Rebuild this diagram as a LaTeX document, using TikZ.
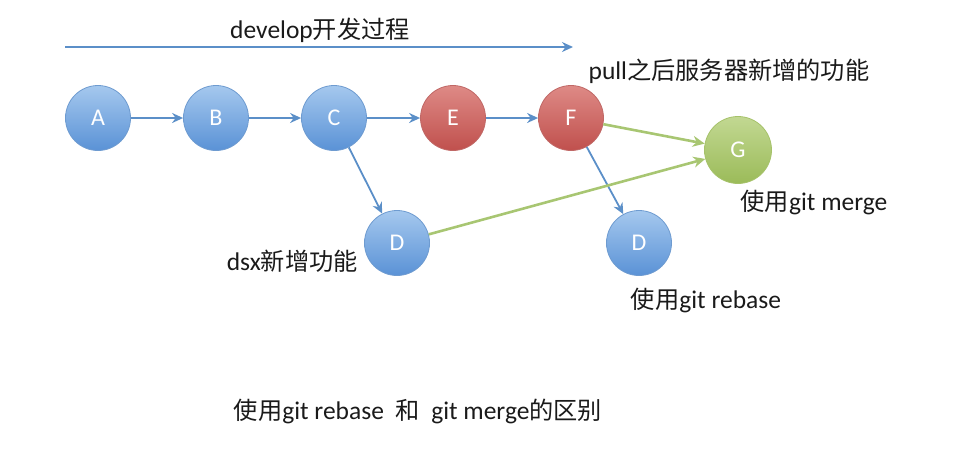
\documentclass[tikz,border=0pt]{standalone}
\usepackage{fontspec}
\setmainfont{Carlito}
\newfontfamily\cjk{Noto Sans CJK SC}[Scale=0.95]
\usetikzlibrary{arrows.meta}
\definecolor{bluetop}{HTML}{A5C8EE}
\definecolor{bluebot}{HTML}{5A92D6}
\definecolor{blueedge}{HTML}{6E9BD0}
\definecolor{redtop}{HTML}{DE8A86}
\definecolor{redbot}{HTML}{C0504D}
\definecolor{rededge}{HTML}{C06866}
\definecolor{greentop}{HTML}{C2D892}
\definecolor{greenbot}{HTML}{9BBB59}
\definecolor{greenedge}{HTML}{A6C26A}
\definecolor{arrblue}{HTML}{5B8FC8}
\definecolor{arrgreen}{HTML}{A8C672}
\definecolor{txt}{HTML}{1A1A1A}
\tikzset{
  commit/.style={circle, minimum size=65pt, inner sep=0pt, text=white, font=\fontsize{24}{26}\selectfont, line width=0.8pt},
  bluec/.style={commit, top color=bluetop, bottom color=bluebot, draw=blueedge},
  redc/.style={commit, top color=redtop, bottom color=redbot, draw=rededge},
  greenc/.style={commit, top color=greentop, bottom color=greenbot, draw=greenedge, minimum size=67pt},
  barrow/.style={draw=arrblue, line width=1.8pt, -{Stealth[length=11pt,width=10pt]}},
  garrow/.style={draw=arrgreen, line width=2.6pt, -{Stealth[length=12pt,width=11pt]}},
  lbl/.style={text=txt, font=\fontsize{25.5}{30}\selectfont, inner sep=0pt}
}
\begin{document}
\begin{tikzpicture}[x=1pt,y=-1pt]
\useasboundingbox (0,0) rectangle (963,456);
% top arrow
\coordinate (t0) at (65,47);
\coordinate (t1) at (573,47);
\draw[barrow] (t0) -- (t1);
\node[lbl] (dev) at (320,30) {develop{\cjk 开发过程}};
% commits
\node[bluec] (A) at (98,118) {A};
\node[bluec] (B) at (216,118) {B};
\node[bluec] (C) at (334,118) {C};
\node[redc] (E) at (453,118) {E};
\node[redc] (F) at (571,118) {F};
\node[greenc] (G) at (738,150) {G};
\node[bluec] (D1) at (397,243) {D};
\node[bluec] (D2) at (639,243) {D};
% connectors
\draw[barrow] (A) -- (B);
\draw[barrow] (B) -- (C);
\draw[barrow] (C) -- (E);
\draw[barrow] (E) -- (F);
\draw[barrow] (C) -- (D1);
\draw[barrow] (F) -- (D2);
\draw[garrow] (F) -- (G);
\draw[garrow] (D1) -- (G);
% labels
\node[lbl] (pull) at (729,71) {pull{\cjk 之后服务器新增的功能}};
\node[lbl] (merge) at (814,202) {{\cjk 使用}git merge};
\node[lbl, anchor=east] (dsx) at (358,261) {dsx{\cjk 新增功能}};
\node[lbl] (rebase) at (706,300) {{\cjk 使用}git rebase};
\node[lbl] (title) at (418,411) {{\cjk 使用}git rebase\ \ {\cjk 和}\ \ git merge{\cjk 的区别}};
\end{tikzpicture}
\end{document}
